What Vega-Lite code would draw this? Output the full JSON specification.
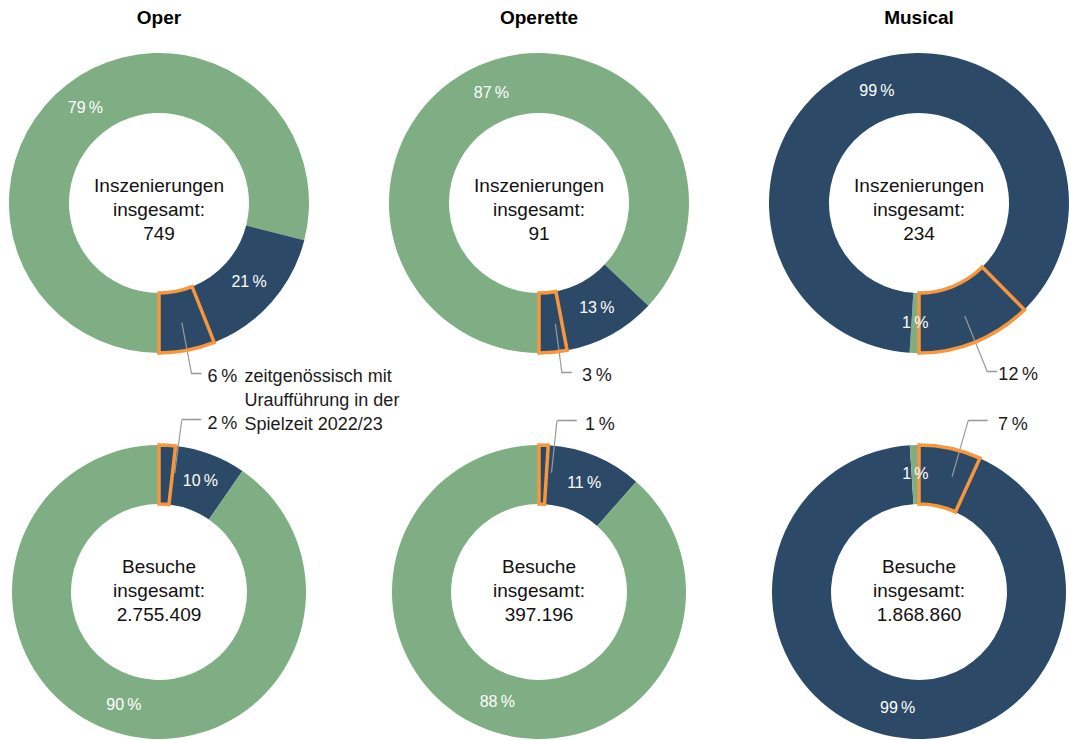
{
  "$schema": "https://vega.github.io/schema/vega-lite/v6.json",
  "autosize": {"type": "pad"},
  "padding": {"left": 9, "top": 9, "right": 0, "bottom": 0},
  "background": "white",
  "config": {
    "view": {"stroke": null},
    "text": {"font": "Liberation Sans"},
    "title": {"font": "Liberation Sans", "fontSize": 19, "fontWeight": "bold", "color": "#000000", "offset": 25, "baseline": "alphabetic", "anchor": "middle", "frame": "group"}
  },
  "datasets": {
    "d": [
      {"p": "oi", "kat": "nicht", "value": 79, "ord": 1, "label": "79\u2009%", "callout": "", "note": "", "center": "Inszenierungen\ninsgesamt:\n749"},
      {"p": "oi", "kat": "rest", "value": 15, "ord": 2, "label": "21\u2009%", "callout": "", "note": "", "center": "Inszenierungen\ninsgesamt:\n749"},
      {"p": "oi", "kat": "ua", "value": 6, "ord": 3, "label": "", "callout": "6\u2009%", "note": "zeitgenössisch mit\nUraufführung in der\nSpielzeit 2022/23", "center": "Inszenierungen\ninsgesamt:\n749"},
      {"p": "ei", "kat": "nicht", "value": 87, "ord": 1, "label": "87\u2009%", "callout": "", "note": "", "center": "Inszenierungen\ninsgesamt:\n91"},
      {"p": "ei", "kat": "rest", "value": 10, "ord": 2, "label": "13\u2009%", "callout": "", "note": "", "center": "Inszenierungen\ninsgesamt:\n91"},
      {"p": "ei", "kat": "ua", "value": 3, "ord": 3, "label": "", "callout": "3\u2009%", "note": "", "center": "Inszenierungen\ninsgesamt:\n91"},
      {"p": "mi", "kat": "nicht", "value": 1, "ord": 1, "label": "1\u2009%", "callout": "", "note": "", "center": "Inszenierungen\ninsgesamt:\n234"},
      {"p": "mi", "kat": "rest", "value": 86.6, "ord": 2, "label": "99\u2009%", "callout": "", "note": "", "center": "Inszenierungen\ninsgesamt:\n234"},
      {"p": "mi", "kat": "ua", "value": 12.4, "ord": 3, "label": "", "callout": "12\u2009%", "note": "", "center": "Inszenierungen\ninsgesamt:\n234"},
      {"p": "ob", "kat": "nicht", "value": 90.4, "ord": 1, "label": "90\u2009%", "callout": "", "note": "", "center": "Besuche\ninsgesamt:\n2.755.409"},
      {"p": "ob", "kat": "rest", "value": 7.8, "ord": 2, "label": "10\u2009%", "callout": "", "note": "", "center": "Besuche\ninsgesamt:\n2.755.409"},
      {"p": "ob", "kat": "ua", "value": 1.8, "ord": 3, "label": "", "callout": "2\u2009%", "note": "", "center": "Besuche\ninsgesamt:\n2.755.409"},
      {"p": "eb", "kat": "nicht", "value": 88.5, "ord": 1, "label": "88\u2009%", "callout": "", "note": "", "center": "Besuche\ninsgesamt:\n397.196"},
      {"p": "eb", "kat": "rest", "value": 10.5, "ord": 2, "label": "11\u2009%", "callout": "", "note": "", "center": "Besuche\ninsgesamt:\n397.196"},
      {"p": "eb", "kat": "ua", "value": 1, "ord": 3, "label": "", "callout": "1\u2009%", "note": "", "center": "Besuche\ninsgesamt:\n397.196"},
      {"p": "mb", "kat": "nicht", "value": 1, "ord": 1, "label": "1\u2009%", "callout": "", "note": "", "center": "Besuche\ninsgesamt:\n1.868.860"},
      {"p": "mb", "kat": "rest", "value": 92.2, "ord": 2, "label": "99\u2009%", "callout": "", "note": "", "center": "Besuche\ninsgesamt:\n1.868.860"},
      {"p": "mb", "kat": "ua", "value": 6.8, "ord": 3, "label": "", "callout": "7\u2009%", "note": "", "center": "Besuche\ninsgesamt:\n1.868.860"}
    ]
  },
  "columns": 3,
  "spacing": {"row": 92, "column": 80},
  "bounds": "flush",
  "concat": [
    {
      "width": 300, "height": 300,
      "title": {"text": "Oper"},
      "data": {"name": "d"},
      "transform": [{"filter": "datum.p === 'oi'"}, {"stack": "value", "groupby": [], "sort": [{"field": "ord", "order": "ascending"}], "as": ["v0", "v1"]}],
      "encoding": {"order": {"field": "ord", "type": "quantitative", "sort": "ascending"}, "detail": {"field": "kat", "type": "nominal"}},
      "layer": [
        {"mark": {"type": "arc", "innerRadius": 90, "outerRadius": 150}, "encoding": {"theta": {"field": "v0", "type": "quantitative", "scale": {"domain": [0, 100], "range": [3.14159265, 9.42477796]}}, "theta2": {"field": "v1"}, "color": {"field": "kat", "type": "nominal", "scale": {"domain": ["nicht", "rest", "ua"], "range": ["#7fae84", "#2c4a67", "#2c4a67"]}, "legend": null}}},
        {"transform": [{"filter": "datum.kat === 'ua'"}], "mark": {"type": "arc", "innerRadius": 122, "outerRadius": 174, "padAngle": 3, "fill": "#ffffff", "fillOpacity": 0, "stroke": "#9a9a9a", "strokeWidth": 1.2, "thetaOffset": 0, "theta2Offset": 0}, "encoding": {"theta": {"field": "v0", "type": "quantitative", "scale": {"domain": [0, 100], "range": [3.14159265, 9.42477796]}}, "theta2": {"field": "v1"}}},
        {"transform": [{"filter": "datum.kat === 'ua'"}], "mark": {"type": "arc", "innerRadius": 90, "outerRadius": 150, "fill": "#ffffff", "fillOpacity": 0, "stroke": "#f7963b", "strokeWidth": 3.5}, "encoding": {"theta": {"field": "v0", "type": "quantitative", "scale": {"domain": [0, 100], "range": [3.14159265, 9.42477796]}}, "theta2": {"field": "v1"}}},
        {"mark": {"type": "text", "radius": 120, "color": "#ffffff", "fontSize": 16, "baseline": "middle"}, "encoding": {"theta": {"field": "value", "type": "quantitative", "stack": true, "scale": {"domain": [0, 100], "range": [3.14159265, 9.42477796]}}, "text": {"field": "label", "type": "nominal"}}},
        {"transform": [{"filter": "datum.kat === 'ua'"}], "mark": {"type": "text", "radius": 174, "thetaOffset": 0.1885, "align": "left", "baseline": "middle", "font": "DejaVu Sans", "fontSize": 16, "color": "#9a9a9a", "text": "─"}, "encoding": {"theta": {"field": "v0", "type": "quantitative", "stack": null, "scale": {"domain": [0, 100], "range": [3.14159265, 9.42477796]}}}},
        {"transform": [{"filter": "datum.kat === 'ua'"}], "mark": {"type": "text", "radius": 174, "thetaOffset": 0.1885, "align": "left", "baseline": "alphabetic", "dx": 16, "dy": 8, "fontSize": 18, "color": "#1a1a1a"}, "encoding": {"theta": {"field": "v0", "type": "quantitative", "stack": null, "scale": {"domain": [0, 100], "range": [3.14159265, 9.42477796]}}, "text": {"field": "callout", "type": "nominal"}}},
        {"transform": [{"filter": "datum.kat === 'ua'"}], "mark": {"type": "text", "radius": 174, "thetaOffset": 0.1885, "align": "left", "baseline": "alphabetic", "dx": 53, "dy": 8, "fontSize": 18, "lineBreak": "\n", "lineHeight": 24, "color": "#1a1a1a"}, "encoding": {"theta": {"field": "v0", "type": "quantitative", "stack": null, "scale": {"domain": [0, 100], "range": [3.14159265, 9.42477796]}}, "text": {"field": "note", "type": "nominal"}}},
        {"transform": [{"filter": "datum.ord === 1"}], "mark": {"type": "text", "fontSize": 19, "lineBreak": "\n", "lineHeight": 24, "baseline": "middle", "dy": -17, "color": "#111111"}, "encoding": {"text": {"field": "center", "type": "nominal"}}}
      ]
    },
    {
      "width": 300, "height": 300,
      "title": {"text": "Operette"},
      "data": {"name": "d"},
      "transform": [{"filter": "datum.p === 'ei'"}, {"stack": "value", "groupby": [], "sort": [{"field": "ord", "order": "ascending"}], "as": ["v0", "v1"]}],
      "encoding": {"order": {"field": "ord", "type": "quantitative", "sort": "ascending"}, "detail": {"field": "kat", "type": "nominal"}},
      "layer": [
        {"mark": {"type": "arc", "innerRadius": 90, "outerRadius": 150}, "encoding": {"theta": {"field": "v0", "type": "quantitative", "scale": {"domain": [0, 100], "range": [3.14159265, 9.42477796]}}, "theta2": {"field": "v1"}, "color": {"field": "kat", "type": "nominal", "scale": {"domain": ["nicht", "rest", "ua"], "range": ["#7fae84", "#2c4a67", "#2c4a67"]}, "legend": null}}},
        {"transform": [{"filter": "datum.kat === 'ua'"}], "mark": {"type": "arc", "innerRadius": 122, "outerRadius": 172, "padAngle": 3, "fill": "#ffffff", "fillOpacity": 0, "stroke": "#9a9a9a", "strokeWidth": 1.2, "thetaOffset": -0.04, "theta2Offset": -0.04}, "encoding": {"theta": {"field": "v0", "type": "quantitative", "scale": {"domain": [0, 100], "range": [3.14159265, 9.42477796]}}, "theta2": {"field": "v1"}}},
        {"transform": [{"filter": "datum.kat === 'ua'"}], "mark": {"type": "arc", "innerRadius": 90, "outerRadius": 150, "fill": "#ffffff", "fillOpacity": 0, "stroke": "#f7963b", "strokeWidth": 3.5}, "encoding": {"theta": {"field": "v0", "type": "quantitative", "scale": {"domain": [0, 100], "range": [3.14159265, 9.42477796]}}, "theta2": {"field": "v1"}}},
        {"mark": {"type": "text", "radius": 120, "color": "#ffffff", "fontSize": 16, "baseline": "middle"}, "encoding": {"theta": {"field": "value", "type": "quantitative", "stack": true, "scale": {"domain": [0, 100], "range": [3.14159265, 9.42477796]}}, "text": {"field": "label", "type": "nominal"}}},
        {"transform": [{"filter": "datum.kat === 'ua'"}], "mark": {"type": "text", "radius": 172, "thetaOffset": 0.054, "align": "left", "baseline": "middle", "font": "DejaVu Sans", "fontSize": 16, "color": "#9a9a9a", "text": "─"}, "encoding": {"theta": {"field": "v0", "type": "quantitative", "stack": null, "scale": {"domain": [0, 100], "range": [3.14159265, 9.42477796]}}}},
        {"transform": [{"filter": "datum.kat === 'ua'"}], "mark": {"type": "text", "radius": 172, "thetaOffset": 0.054, "align": "left", "baseline": "alphabetic", "dx": 20, "dy": 8, "fontSize": 18, "color": "#1a1a1a"}, "encoding": {"theta": {"field": "v0", "type": "quantitative", "stack": null, "scale": {"domain": [0, 100], "range": [3.14159265, 9.42477796]}}, "text": {"field": "callout", "type": "nominal"}}},
        {"transform": [{"filter": "datum.ord === 1"}], "mark": {"type": "text", "fontSize": 19, "lineBreak": "\n", "lineHeight": 24, "baseline": "middle", "dy": -17, "color": "#111111"}, "encoding": {"text": {"field": "center", "type": "nominal"}}}
      ]
    },
    {
      "width": 300, "height": 300,
      "title": {"text": "Musical"},
      "data": {"name": "d"},
      "transform": [{"filter": "datum.p === 'mi'"}, {"stack": "value", "groupby": [], "sort": [{"field": "ord", "order": "ascending"}], "as": ["v0", "v1"]}],
      "encoding": {"order": {"field": "ord", "type": "quantitative", "sort": "ascending"}, "detail": {"field": "kat", "type": "nominal"}},
      "layer": [
        {"mark": {"type": "arc", "innerRadius": 90, "outerRadius": 150}, "encoding": {"theta": {"field": "v0", "type": "quantitative", "scale": {"domain": [0, 100], "range": [3.14159265, 9.42477796]}}, "theta2": {"field": "v1"}, "color": {"field": "kat", "type": "nominal", "scale": {"domain": ["nicht", "rest", "ua"], "range": ["#7fae84", "#2c4a67", "#2c4a67"]}, "legend": null}}},
        {"transform": [{"filter": "datum.kat === 'ua'"}], "mark": {"type": "arc", "innerRadius": 122, "outerRadius": 182, "padAngle": 3, "fill": "#ffffff", "fillOpacity": 0, "stroke": "#9a9a9a", "strokeWidth": 1.2, "thetaOffset": 0.005, "theta2Offset": 0.005}, "encoding": {"theta": {"field": "v0", "type": "quantitative", "scale": {"domain": [0, 100], "range": [3.14159265, 9.42477796]}}, "theta2": {"field": "v1"}}},
        {"transform": [{"filter": "datum.kat === 'ua'"}], "mark": {"type": "arc", "innerRadius": 90, "outerRadius": 150, "fill": "#ffffff", "fillOpacity": 0, "stroke": "#f7963b", "strokeWidth": 3.5}, "encoding": {"theta": {"field": "v0", "type": "quantitative", "scale": {"domain": [0, 100], "range": [3.14159265, 9.42477796]}}, "theta2": {"field": "v1"}}},
        {"mark": {"type": "text", "radius": 120, "color": "#ffffff", "fontSize": 16, "baseline": "middle"}, "encoding": {"theta": {"field": "value", "type": "quantitative", "stack": true, "scale": {"domain": [0, 100], "range": [3.14159265, 9.42477796]}}, "text": {"field": "label", "type": "nominal"}}},
        {"transform": [{"filter": "datum.kat === 'ua'"}], "mark": {"type": "text", "radius": 182, "thetaOffset": 0.394, "align": "left", "baseline": "middle", "font": "DejaVu Sans", "fontSize": 16, "color": "#9a9a9a", "text": "─"}, "encoding": {"theta": {"field": "v0", "type": "quantitative", "stack": null, "scale": {"domain": [0, 100], "range": [3.14159265, 9.42477796]}}}},
        {"transform": [{"filter": "datum.kat === 'ua'"}], "mark": {"type": "text", "radius": 182, "thetaOffset": 0.394, "align": "left", "baseline": "alphabetic", "dx": 11, "dy": 8, "fontSize": 18, "color": "#1a1a1a"}, "encoding": {"theta": {"field": "v0", "type": "quantitative", "stack": null, "scale": {"domain": [0, 100], "range": [3.14159265, 9.42477796]}}, "text": {"field": "callout", "type": "nominal"}}},
        {"transform": [{"filter": "datum.ord === 1"}], "mark": {"type": "text", "fontSize": 19, "lineBreak": "\n", "lineHeight": 24, "baseline": "middle", "dy": -17, "color": "#111111"}, "encoding": {"text": {"field": "center", "type": "nominal"}}}
      ]
    },
    {
      "width": 300, "height": 294,
      "data": {"name": "d"},
      "transform": [{"filter": "datum.p === 'ob'"}, {"stack": "value", "groupby": [], "sort": [{"field": "ord", "order": "descending"}], "as": ["v0", "v1"]}],
      "encoding": {"order": {"field": "ord", "type": "quantitative", "sort": "descending"}, "detail": {"field": "kat", "type": "nominal"}},
      "layer": [
        {"mark": {"type": "arc", "innerRadius": 88, "outerRadius": 147}, "encoding": {"theta": {"field": "v0", "type": "quantitative", "scale": {"domain": [0, 100], "range": [0, 6.28318531]}}, "theta2": {"field": "v1"}, "color": {"field": "kat", "type": "nominal", "scale": {"domain": ["nicht", "rest", "ua"], "range": ["#7fae84", "#2c4a67", "#2c4a67"]}, "legend": null}}},
        {"transform": [{"filter": "datum.kat === 'ua'"}], "mark": {"type": "arc", "innerRadius": 120, "outerRadius": 173, "padAngle": 3, "fill": "#ffffff", "fillOpacity": 0, "stroke": "#9a9a9a", "strokeWidth": 1.2, "thetaOffset": 0.075, "theta2Offset": 0.075}, "encoding": {"theta": {"field": "v0", "type": "quantitative", "scale": {"domain": [0, 100], "range": [0, 6.28318531]}}, "theta2": {"field": "v1"}}},
        {"transform": [{"filter": "datum.kat === 'ua'"}], "mark": {"type": "arc", "innerRadius": 88, "outerRadius": 147, "fill": "#ffffff", "fillOpacity": 0, "stroke": "#f7963b", "strokeWidth": 3.5}, "encoding": {"theta": {"field": "v0", "type": "quantitative", "scale": {"domain": [0, 100], "range": [0, 6.28318531]}}, "theta2": {"field": "v1"}}},
        {"mark": {"type": "text", "radius": 118, "color": "#ffffff", "fontSize": 16, "baseline": "middle"}, "encoding": {"theta": {"field": "value", "type": "quantitative", "stack": true, "scale": {"domain": [0, 100], "range": [0, 6.28318531]}}, "text": {"field": "label", "type": "nominal"}}},
        {"transform": [{"filter": "datum.kat === 'ua'"}], "mark": {"type": "text", "radius": 173, "thetaOffset": 0.131, "align": "left", "baseline": "middle", "font": "DejaVu Sans", "fontSize": 16, "color": "#9a9a9a", "text": "──"}, "encoding": {"theta": {"field": "v0", "type": "quantitative", "stack": null, "scale": {"domain": [0, 100], "range": [0, 6.28318531]}}}},
        {"transform": [{"filter": "datum.kat === 'ua'"}], "mark": {"type": "text", "radius": 173, "thetaOffset": 0.131, "align": "left", "baseline": "alphabetic", "dx": 26, "dy": 9, "fontSize": 18, "color": "#1a1a1a"}, "encoding": {"theta": {"field": "v0", "type": "quantitative", "stack": null, "scale": {"domain": [0, 100], "range": [0, 6.28318531]}}, "text": {"field": "callout", "type": "nominal"}}},
        {"transform": [{"filter": "datum.ord === 1"}], "mark": {"type": "text", "fontSize": 19, "lineBreak": "\n", "lineHeight": 24, "baseline": "middle", "dy": -25, "color": "#111111"}, "encoding": {"text": {"field": "center", "type": "nominal"}}}
      ]
    },
    {
      "width": 300, "height": 294,
      "data": {"name": "d"},
      "transform": [{"filter": "datum.p === 'eb'"}, {"stack": "value", "groupby": [], "sort": [{"field": "ord", "order": "descending"}], "as": ["v0", "v1"]}],
      "encoding": {"order": {"field": "ord", "type": "quantitative", "sort": "descending"}, "detail": {"field": "kat", "type": "nominal"}},
      "layer": [
        {"mark": {"type": "arc", "innerRadius": 88, "outerRadius": 147}, "encoding": {"theta": {"field": "v0", "type": "quantitative", "scale": {"domain": [0, 100], "range": [0, 6.28318531]}}, "theta2": {"field": "v1"}, "color": {"field": "kat", "type": "nominal", "scale": {"domain": ["nicht", "rest", "ua"], "range": ["#7fae84", "#2c4a67", "#2c4a67"]}, "legend": null}}},
        {"transform": [{"filter": "datum.kat === 'ua'"}], "mark": {"type": "arc", "innerRadius": 120, "outerRadius": 172, "padAngle": 3, "fill": "#ffffff", "fillOpacity": 0, "stroke": "#9a9a9a", "strokeWidth": 1.2, "thetaOffset": 0.073, "theta2Offset": 0.073}, "encoding": {"theta": {"field": "v0", "type": "quantitative", "scale": {"domain": [0, 100], "range": [0, 6.28318531]}}, "theta2": {"field": "v1"}}},
        {"transform": [{"filter": "datum.kat === 'ua'"}], "mark": {"type": "arc", "innerRadius": 88, "outerRadius": 147, "fill": "#ffffff", "fillOpacity": 0, "stroke": "#f7963b", "strokeWidth": 3.5}, "encoding": {"theta": {"field": "v0", "type": "quantitative", "scale": {"domain": [0, 100], "range": [0, 6.28318531]}}, "theta2": {"field": "v1"}}},
        {"mark": {"type": "text", "radius": 118, "color": "#ffffff", "fontSize": 16, "baseline": "middle"}, "encoding": {"theta": {"field": "value", "type": "quantitative", "stack": true, "scale": {"domain": [0, 100], "range": [0, 6.28318531]}}, "text": {"field": "label", "type": "nominal"}}},
        {"transform": [{"filter": "datum.kat === 'ua'"}], "mark": {"type": "text", "radius": 172, "thetaOffset": 0.105, "align": "left", "baseline": "middle", "font": "DejaVu Sans", "fontSize": 16, "color": "#9a9a9a", "text": "──"}, "encoding": {"theta": {"field": "v0", "type": "quantitative", "stack": null, "scale": {"domain": [0, 100], "range": [0, 6.28318531]}}}},
        {"transform": [{"filter": "datum.kat === 'ua'"}], "mark": {"type": "text", "radius": 172, "thetaOffset": 0.105, "align": "left", "baseline": "alphabetic", "dx": 28, "dy": 9, "fontSize": 18, "color": "#1a1a1a"}, "encoding": {"theta": {"field": "v0", "type": "quantitative", "stack": null, "scale": {"domain": [0, 100], "range": [0, 6.28318531]}}, "text": {"field": "callout", "type": "nominal"}}},
        {"transform": [{"filter": "datum.ord === 1"}], "mark": {"type": "text", "fontSize": 19, "lineBreak": "\n", "lineHeight": 24, "baseline": "middle", "dy": -25, "color": "#111111"}, "encoding": {"text": {"field": "center", "type": "nominal"}}}
      ]
    },
    {
      "width": 300, "height": 294,
      "data": {"name": "d"},
      "transform": [{"filter": "datum.p === 'mb'"}, {"stack": "value", "groupby": [], "sort": [{"field": "ord", "order": "descending"}], "as": ["v0", "v1"]}],
      "encoding": {"order": {"field": "ord", "type": "quantitative", "sort": "descending"}, "detail": {"field": "kat", "type": "nominal"}},
      "layer": [
        {"mark": {"type": "arc", "innerRadius": 88, "outerRadius": 147}, "encoding": {"theta": {"field": "v0", "type": "quantitative", "scale": {"domain": [0, 100], "range": [0, 6.28318531]}}, "theta2": {"field": "v1"}, "color": {"field": "kat", "type": "nominal", "scale": {"domain": ["nicht", "rest", "ua"], "range": ["#7fae84", "#2c4a67", "#2c4a67"]}, "legend": null}}},
        {"transform": [{"filter": "datum.kat === 'ua'"}], "mark": {"type": "arc", "innerRadius": 120, "outerRadius": 178, "padAngle": 3, "fill": "#ffffff", "fillOpacity": 0, "stroke": "#9a9a9a", "strokeWidth": 1.2, "thetaOffset": 0.066, "theta2Offset": 0.066}, "encoding": {"theta": {"field": "v0", "type": "quantitative", "scale": {"domain": [0, 100], "range": [0, 6.28318531]}}, "theta2": {"field": "v1"}}},
        {"transform": [{"filter": "datum.kat === 'ua'"}], "mark": {"type": "arc", "innerRadius": 88, "outerRadius": 147, "fill": "#ffffff", "fillOpacity": 0, "stroke": "#f7963b", "strokeWidth": 3.5}, "encoding": {"theta": {"field": "v0", "type": "quantitative", "scale": {"domain": [0, 100], "range": [0, 6.28318531]}}, "theta2": {"field": "v1"}}},
        {"mark": {"type": "text", "radius": 118, "color": "#ffffff", "fontSize": 16, "baseline": "middle"}, "encoding": {"theta": {"field": "value", "type": "quantitative", "stack": true, "scale": {"domain": [0, 100], "range": [0, 6.28318531]}}, "text": {"field": "label", "type": "nominal"}}},
        {"transform": [{"filter": "datum.kat === 'ua'"}], "mark": {"type": "text", "radius": 178, "thetaOffset": 0.279, "align": "left", "baseline": "middle", "font": "DejaVu Sans", "fontSize": 16, "color": "#9a9a9a", "text": "──"}, "encoding": {"theta": {"field": "v0", "type": "quantitative", "stack": null, "scale": {"domain": [0, 100], "range": [0, 6.28318531]}}}},
        {"transform": [{"filter": "datum.kat === 'ua'"}], "mark": {"type": "text", "radius": 178, "thetaOffset": 0.279, "align": "left", "baseline": "alphabetic", "dx": 30, "dy": 9, "fontSize": 18, "color": "#1a1a1a"}, "encoding": {"theta": {"field": "v0", "type": "quantitative", "stack": null, "scale": {"domain": [0, 100], "range": [0, 6.28318531]}}, "text": {"field": "callout", "type": "nominal"}}},
        {"transform": [{"filter": "datum.ord === 1"}], "mark": {"type": "text", "fontSize": 19, "lineBreak": "\n", "lineHeight": 24, "baseline": "middle", "dy": -25, "color": "#111111"}, "encoding": {"text": {"field": "center", "type": "nominal"}}}
      ]
    }
  ]
}
